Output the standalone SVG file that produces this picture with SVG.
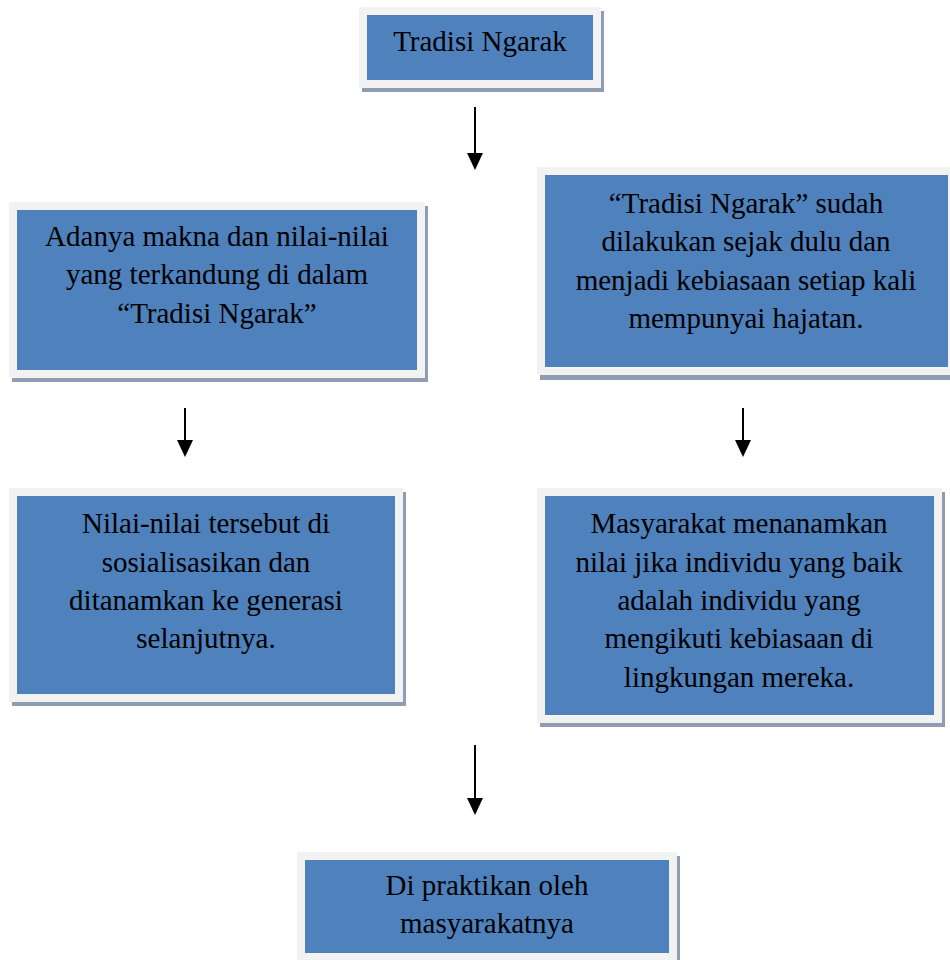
<svg xmlns="http://www.w3.org/2000/svg" width="950" height="960" viewBox="0 0 950 960">
<defs>
<style>
.shadow{fill:#8f9db2;}
.box{fill:#4f81bd;stroke:#f2f2f2;stroke-width:8;}
.t{font-family:"Liberation Serif","Times New Roman",serif;font-size:29px;fill:#000;text-anchor:middle;}
.conn{stroke:#000;stroke-width:2;fill:none;marker-end:url(#ah);}
</style>
<marker id="ah" viewBox="0 0 17 16" refX="0" refY="8" markerWidth="17" markerHeight="16" markerUnits="userSpaceOnUse" orient="auto">
<path d="M0,0 L17,8 L0,16 Z" fill="#000"/>
</marker>
</defs>
<rect width="950" height="960" fill="#fff"/>

<g id="connectors">
<path class="conn" d="M475,107 V153"/>
<path class="conn" d="M185,408 V440"/>
<path class="conn" d="M743,408 V440"/>
<path class="conn" d="M475,745 V798"/>
</g>

<g id="n1">
<rect class="shadow" x="362" y="11" width="242" height="81"/>
<rect class="box" x="363" y="11" width="234" height="73"/>
<text class="t" x="480" y="51">Tradisi Ngarak</text>
</g>

<g id="n2">
<rect class="shadow" x="12" y="206" width="416" height="176"/>
<rect class="box" x="13" y="206" width="408" height="168"/>
<text class="t" x="217" y="246">Adanya makna dan nilai-nilai</text>
<text class="t" x="217" y="284">yang terkandung di dalam</text>
<text class="t" x="217" y="323">“Tradisi Ngarak”</text>
</g>

<g id="n3">
<rect class="shadow" x="540" y="171" width="419" height="209"/>
<rect class="box" x="541" y="171" width="411" height="200"/>
<text class="t" x="746" y="213">“Tradisi Ngarak” sudah</text>
<text class="t" x="746" y="251">dilakukan sejak dulu dan</text>
<text class="t" x="746" y="290">menjadi kebiasaan setiap kali</text>
<text class="t" x="746" y="328">mempunyai hajatan.</text>
</g>

<g id="n4">
<rect class="shadow" x="12" y="492" width="394" height="214"/>
<rect class="box" x="13" y="492" width="386" height="206"/>
<text class="t" x="206" y="533">Nilai-nilai tersebut di</text>
<text class="t" x="206" y="572">sosialisasikan dan</text>
<text class="t" x="206" y="610">ditanamkan ke generasi</text>
<text class="t" x="206" y="648">selanjutnya.</text>
</g>

<g id="n5">
<rect class="shadow" x="540" y="492" width="405" height="235"/>
<rect class="box" x="541" y="492" width="397" height="227"/>
<text class="t" x="739" y="533">Masyarakat menanamkan</text>
<text class="t" x="739" y="572">nilai jika individu yang baik</text>
<text class="t" x="739" y="610">adalah individu yang</text>
<text class="t" x="739" y="648">mengikuti kebiasaan di</text>
<text class="t" x="739" y="687">lingkungan mereka.</text>
</g>

<g id="n6">
<rect class="shadow" x="300" y="856" width="380" height="110"/>
<rect class="box" x="301" y="856" width="372" height="101"/>
<text class="t" x="487" y="895">Di praktikan oleh</text>
<text class="t" x="487" y="933">masyarakatnya</text>
</g>
</svg>
